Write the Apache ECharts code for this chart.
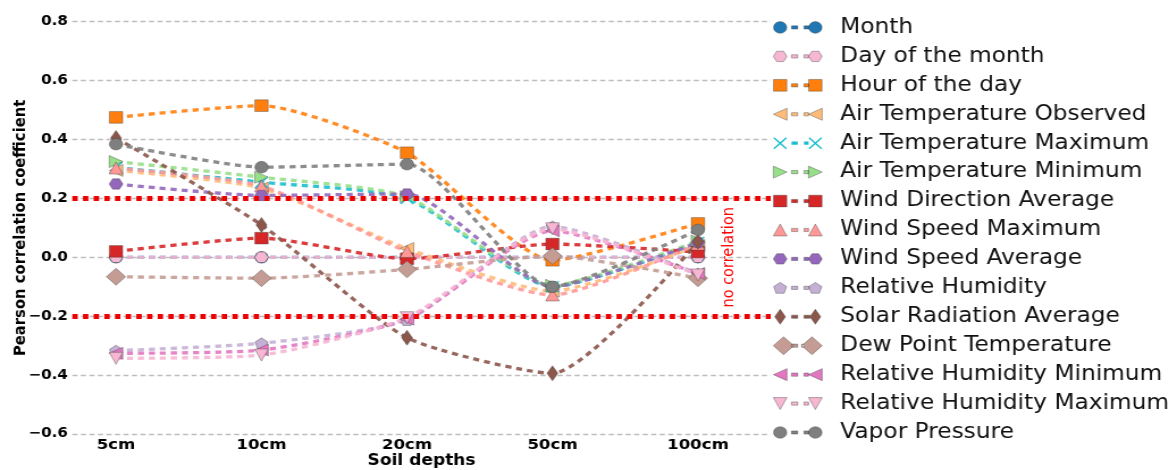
<!DOCTYPE html>
<html>
<head>
<meta charset="utf-8">
<script src="https://cdn.jsdelivr.net/npm/echarts@6.0.0/dist/echarts.min.js"></script>
<style>
  html, body { margin: 0; padding: 0; background: #fff; overflow: hidden; }
  /* the figure is laid out narrower and stretched horizontally */
  #chart { width: 1034.4px; height: 470px; transform: scaleX(1.135); transform-origin: 0 0; }
</style>
</head>
<body>
<div id="chart"></div>
<script>
// ---- data -------------------------------------------------------------
const depths = ['5cm', '10cm', '20cm', '50cm', '100cm'];
const yTicks = [-0.6, -0.4, -0.2, 0, 0.2, 0.4, 0.6, 0.8];
const thresholds = [0.2, -0.2];
const noCorrelationAt = [4.21, 0];

const month              = [0, 0, 0, 0, 0];
const dayOfMonth         = [0, 0, 0, 0, 0];
const hourOfDay          = [0.475, 0.515, 0.355, -0.01, 0.115];
const airTempObserved    = [0.295, 0.235, 0.03, -0.115, 0.04];
const airTempMaximum     = [0.305, 0.255, 0.2, -0.1, 0.05];
const airTempMinimum     = [0.325, 0.272, 0.206, -0.095, 0.055];
const windDirectionAvg   = [0.02, 0.065, -0.005, 0.045, 0.018];
const windSpeedMaximum   = [0.303, 0.242, 0.02, -0.128, 0.045];
const windSpeedAverage   = [0.249, 0.21, 0.215, -0.1, 0.05];
const relativeHumidity   = [-0.317, -0.292, -0.213, 0.105, -0.055];
const solarRadiationAvg  = [0.405, 0.11, -0.273, -0.394, 0.053];
const dewPointTemp       = [-0.066, -0.071, -0.041, 0.004, -0.071];
const relHumidityMinimum = [-0.326, -0.315, -0.21, 0.09, -0.055];
const relHumidityMaximum = [-0.343, -0.332, -0.205, 0.097, -0.06];
const vaporPressure      = [0.384, 0.306, 0.316, -0.1, 0.093];

// ---- marker shapes (unit box, centred) ---------------------------------
const SHAPES = {
  square:   [[-0.5, -0.5], [0.5, -0.5], [0.5, 0.5], [-0.5, 0.5]],
  hexagon:  [[-0.5, 0], [-0.25, -0.5], [0.25, -0.5], [0.5, 0], [0.25, 0.5], [-0.25, 0.5]],
  triLeft:  [[-0.5, 0], [0.5, -0.5], [0.5, 0.5]],
  triRight: [[0.5, 0], [-0.5, -0.5], [-0.5, 0.5]],
  triUp:    [[0, -0.5], [0.5, 0.5], [-0.5, 0.5]],
  triDown:  [[-0.5, -0.5], [0.5, -0.5], [0, 0.5]],
  pentagon: [[0, -0.5], [0.5, -0.118], [0.309, 0.5], [-0.309, 0.5], [-0.5, -0.118]],
  diamond:  [[0, -0.5], [0.5, 0], [0, 0.5], [-0.5, 0]],
  cross:    [[-0.5, -0.42], [-0.42, -0.5], [0, -0.08], [0.42, -0.5], [0.5, -0.42], [0.08, 0],
             [0.5, 0.42], [0.42, 0.5], [0, 0.08], [-0.42, 0.5], [-0.5, 0.42], [-0.08, 0]]
};

function polyPath(pts, cx, cy, w, h) {
  return 'M' + pts.map(p => (cx + p[0] * w).toFixed(3) + ' ' + (cy + p[1] * h).toFixed(3)).join(' L') + ' Z ';
}
function ellipsePath(cx, cy, w, h) {
  const rx = w / 2, ry = h / 2;
  return `M${cx - rx} ${cy} A${rx} ${ry} 0 1 0 ${cx + rx} ${cy} A${rx} ${ry} 0 1 0 ${cx - rx} ${cy} Z `;
}
function markerPath(shape, cx, cy, w, h) {
  return shape === 'circle' ? ellipsePath(cx, cy, w, h) : polyPath(SHAPES[shape], cx, cy, w, h);
}
function seriesSymbol(shape) {
  return shape === 'circle' ? 'circle' : 'path://' + polyPath(SHAPES[shape], 0, 0, 100, 100);
}

// legend glyph: marker, two short dashes, marker
const ICON_W = 43, ICON_H = 18;
function legendIcon(shape, size) {
  const [w, h] = size;
  const cy = ICON_H / 2;
  const c1 = Math.max(w / 2, 6), c2 = ICON_W - c1;
  let d = `M0 0 L0.01 0 M${ICON_W} ${ICON_H} L${ICON_W - 0.01} ${ICON_H} `;
  d += `M16 ${cy - 1.6} L21.5 ${cy - 1.6} L21.5 ${cy + 1.6} L16 ${cy + 1.6} Z `;
  d += `M27 ${cy - 1.6} L${c2 - w / 2} ${cy - 1.6} L${c2 - w / 2} ${cy + 1.6} L27 ${cy + 1.6} Z `;
  d += markerPath(shape, c1, cy, w, h);
  d += markerPath(shape, c2, cy, w, h);
  return 'path://' + d;
}

const features = [
  { name: 'Month',                       values: month,              color: '#1f77b4', shape: 'circle',   size: [11.7, 11.7] },
  { name: 'Day of the month',            values: dayOfMonth,         color: '#f7b6d2', shape: 'hexagon',  size: [12, 10.4] },
  { name: 'Hour of the day',             values: hourOfDay,          color: '#ff7f0e', shape: 'square',   size: [11.7, 11.7] },
  { name: 'Air Temperature Observed',    values: airTempObserved,    color: '#ffbb78', shape: 'triLeft',  size: [12, 12] },
  { name: 'Air Temperature Maximum',     values: airTempMaximum,     color: '#17becf', shape: 'cross',    size: [12, 12] },
  { name: 'Air Temperature Minimum',     values: airTempMinimum,     color: '#98df8a', shape: 'triRight', size: [12, 12] },
  { name: 'Wind Direction Average',      values: windDirectionAvg,   color: '#d62728', shape: 'square',   size: [11.7, 11.7] },
  { name: 'Wind Speed Maximum',          values: windSpeedMaximum,   color: '#ff9896', shape: 'triUp',    size: [12, 12] },
  { name: 'Wind Speed Average',          values: windSpeedAverage,   color: '#9467bd', shape: 'hexagon',  size: [12, 10.4] },
  { name: 'Relative Humidity',           values: relativeHumidity,   color: '#c5b0d5', shape: 'pentagon', size: [11.4, 10.9] },
  { name: 'Solar Radiation Average',     values: solarRadiationAvg,  color: '#8c564b', shape: 'diamond',  size: [9.5, 15] },
  { name: 'Dew Point Temperature',       values: dewPointTemp,       color: '#c49c94', shape: 'diamond',  size: [17, 17], legendSize: [18, 18] },
  { name: 'Relative Humidity Minimum',   values: relHumidityMinimum, color: '#e377c2', shape: 'triLeft',  size: [12, 12] },
  { name: 'Relative Humidity Maximum',   values: relHumidityMaximum, color: '#f7b6d2', shape: 'triDown',  size: [12, 12] },
  { name: 'Vapor Pressure',              values: vaporPressure,      color: '#7f7f7f', shape: 'circle',   size: [11.7, 11.7] }
];

// ---- chart --------------------------------------------------------------
const FONT = 'DejaVu Sans';
const EDGE = 'rgba(60,60,60,0.55)';
const fmtTick = v => (v < 0 ? '\u2212' : '') + Math.abs(v).toFixed(1);

const chart = echarts.init(document.getElementById('chart'), null, { renderer: 'canvas' });

const thresholdSeries = {
  type: 'line',
  name: 'threshold',
  data: [],
  silent: true,
  z: 1,
  markLine: {
    silent: true,
    symbol: ['none', 'none'],
    label: { show: false },
    lineStyle: { color: '#ee0000', width: 5, type: [4.7, 4.7], cap: 'butt', opacity: 1 },
    emphasis: { disabled: true },
    data: thresholds.map(v => ({ yAxis: v }))
  },
  markPoint: {
    silent: true,
    symbol: 'rect',
    symbolSize: 0,
    data: [{
      coord: noCorrelationAt,
      label: {
        show: true, position: 'inside', formatter: 'no correlation', rotate: 90,
        color: '#ff0000', fontSize: 14.5, fontFamily: FONT
      }
    }]
  }
};

const featureSeries = features.map(f => ({
  type: 'line',
  name: f.name,
  data: f.values.map((v, i) => [i, v]),
  smooth: 0.2,
  symbol: seriesSymbol(f.shape),
  symbolSize: f.size,
  symbolKeepAspect: false,
  showSymbol: true,
  z: 2,
  lineStyle: { color: f.color, width: 3.3, type: [5.3, 4.4], cap: 'butt', opacity: 0.9 },
  itemStyle: {
    color: f.color,
    borderColor: f.shape === 'cross' ? f.color : EDGE,
    borderWidth: f.shape === 'cross' ? 0 : 0.7
  },
  emphasis: { disabled: true }
}));

chart.setOption({
  animation: false,
  backgroundColor: '#ffffff',
  grid: { left: 63.74, top: 21.7, width: 615.3, height: 412.3, containLabel: false, outerBoundsMode: 'none' },
  xAxis: {
    type: 'value',
    min: -0.3,
    max: 4.5,
    name: 'Soil depths',
    nameLocation: 'middle',
    nameGap: 20,
    nameMoveOverlap: false,
    nameTextStyle: { fontFamily: FONT, fontSize: 15, fontWeight: 'bold', color: '#000', verticalAlign: 'top' },
    axisLine: { show: false },
    axisTick: { show: false },
    splitLine: { show: false },
    axisLabel: {
      customValues: depths.map((_, i) => i),
      formatter: v => depths[Math.round(v)],
      fontFamily: FONT, fontSize: 14.6, fontWeight: 'bold', color: '#000', margin: 4
    }
  },
  yAxis: {
    type: 'value',
    min: -0.6,
    max: 0.8,
    interval: 0.2,
    name: 'Pearson correlation coefficient',
    nameLocation: 'middle',
    nameRotate: 90,
    nameGap: 38,
    nameMoveOverlap: false,
    nameTextStyle: { fontFamily: FONT, fontSize: 14.8, fontWeight: 'bold', color: '#000' },
    axisLine: { show: false },
    axisTick: { show: false },
    splitLine: { show: true, lineStyle: { color: '#bdbdbd', width: 1.3, type: [4.5, 3] } },
    axisLabel: {
      customValues: yTicks,
      formatter: fmtTick,
      fontFamily: FONT, fontSize: 13.3, fontWeight: 'bold', color: '#000', margin: 4
    }
  },
  legend: {
    orient: 'vertical',
    left: 681,
    top: 13,
    padding: 0,
    itemWidth: ICON_W,
    itemHeight: ICON_H,
    itemGap: 0,
    selectedMode: false,
    textStyle: { fontFamily: FONT, fontSize: 20.5, color: '#111', lineHeight: 28.93, padding: [0, 0, 0, 11] },
    data: features.map(f => ({
      name: f.name,
      icon: legendIcon(f.shape, f.legendSize || f.size),
      itemStyle: {
        color: f.color,
        borderColor: f.shape === 'cross' ? f.color : EDGE,
        borderWidth: f.shape === 'cross' ? 0 : 0.7
      }
    }))
  },
  series: [thresholdSeries, ...featureSeries]
});
</script>
</body>
</html>
